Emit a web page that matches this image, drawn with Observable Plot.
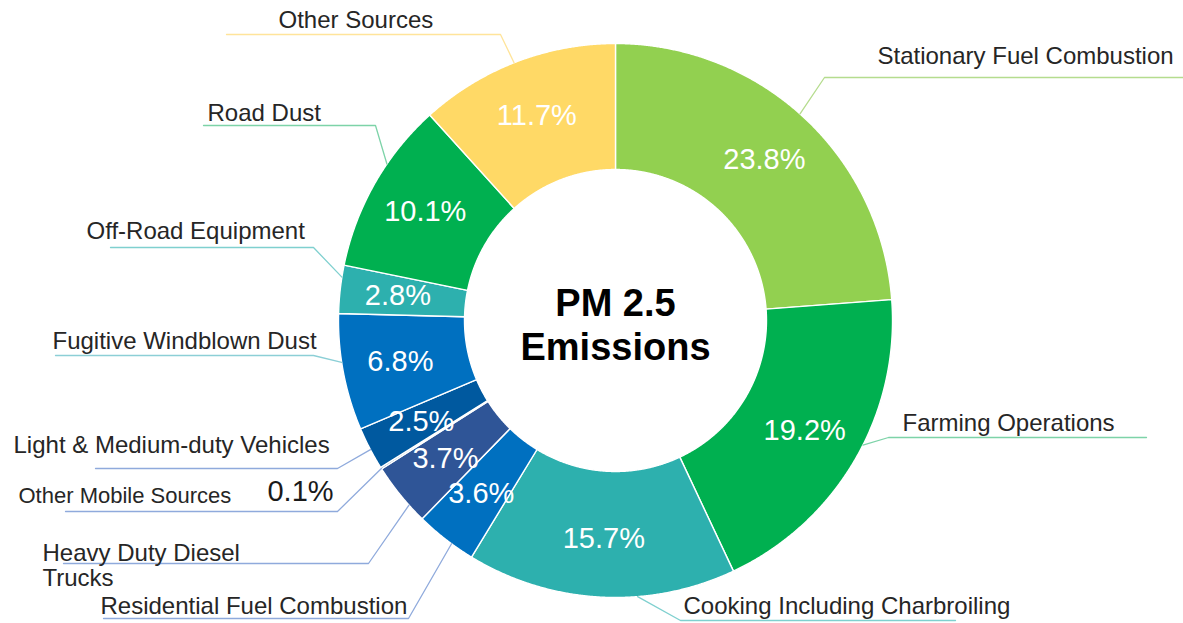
<!DOCTYPE html>
<html><head><meta charset="utf-8">
<script src="https://cdn.jsdelivr.net/npm/d3@7"></script>
<script src="https://cdn.jsdelivr.net/npm/@observablehq/plot@0.6"></script>
<style>
html,body{margin:0;padding:0;background:#fff;}
#chart{width:1183px;height:623px;overflow:hidden;}
</style>
</head><body><div id="chart"></div>
<script>
// ---- data ----
const categories = [
  "Stationary Fuel Combustion",
  "Farming Operations",
  "Cooking Including Charbroiling",
  "Residential Fuel Combustion",
  "Heavy Duty Diesel\nTrucks",
  "Other Mobile Sources",
  "Light & Medium-duty Vehicles",
  "Fugitive Windblown Dust",
  "Off-Road Equipment",
  "Road Dust",
  "Other Sources"
];
const shares = [23.8, 19.2, 15.7, 3.6, 3.7, 0.1, 2.5, 6.8, 2.8, 10.1, 11.7];
const shareLabels = shares.map(v => v.toFixed(1) + "%");
const sliceColors = ["#92D050","#00B050","#2DB0AE","#0070C0","#2F5597","#1F4E79","#00599F","#0070C0","#2DB0AE","#00B050","#FFD966"];
const leaderColors = ["#B5DC8E","#7DD3A8","#7FD0CF","#8FAADC","#8FAADC","#8FAADC","#8FAADC","#8CCFD6","#7FD0CF","#7DD3A8","#FFE49A"];
const titleLines = ["PM 2.5", "Emissions"];

// ---- layout (pixels) ----
const W = 1183, H = 623, cx = 615, cy = 320, R = 277, R0 = 151, RL = 219;
const labelLayout = [
  {side:"right", tx:877, ty:63,  fs:24, uy:77,  u0:824, u1:1183},
  {side:"right", tx:902, ty:430, fs:24, uy:437, u0:888, u1:1146},
  {side:"right", tx:683, ty:613, fs:24, uy:620, u0:680, u1:955},
  {side:"left",  tx:100, ty:613, fs:24, uy:618, u0:103, u1:408},
  {side:"left",  tx:42,  ty:585, fs:24, uy:563, u0:63,  u1:368},
  {side:"left",  tx:18,  ty:502, fs:22, uy:511, u0:65,  u1:337, px:300, py:500},
  {side:"left",  tx:13,  ty:452, fs:24, uy:468, u0:95,  u1:337},
  {side:"left",  tx:52,  ty:348, fs:24, uy:355, u0:55,  u1:313},
  {side:"left",  tx:86,  ty:238, fs:24, uy:247, u0:110, u1:313},
  {side:"left",  tx:207, ty:120, fs:24, uy:125, u0:203, u1:375},
  {side:"left",  tx:278, ty:27,  fs:24, uy:34,  u0:226, u1:500}
];

const total = d3.sum(shares);
const TAU = 2 * Math.PI;
const pt = (r, a) => ({x: cx + r * Math.sin(a), y: cy - r * Math.cos(a)});
let acc = 0;
const slices = shares.map((v, i) => {
  const a0 = acc / total * TAU;
  acc += v;
  const a1 = acc / total * TAU;
  const n = Math.max(2, Math.ceil((a1 - a0) / 0.004));
  const pts = [];
  for (let k = 0; k <= n; k++) pts.push(pt(R, a0 + (a1 - a0) * k / n));
  for (let k = n; k >= 0; k--) pts.push(pt(R0, a0 + (a1 - a0) * k / n));
  const am = (a0 + a1) / 2;
  // leader attaches between the slice middle and the point nearest the elbow
  const L = labelLayout[i];
  const ex = L.side === "right" ? L.u0 : L.u1;
  let an = Math.atan2(ex - cx, -(L.uy - cy));
  if (an < 0) an += TAU;
  an = Math.min(a1, Math.max(a0, an));
  const aLead = (am + an) / 2;
  return {i, name: categories[i], value: v, label: shareLabels[i], color: sliceColors[i], pts, am,
          mid: pt(RL, am), edge: pt(R, aLead)};
});

const marks = [];
slices.forEach(s => {
  marks.push(Plot.line(s.pts, {x:"x", y:"y", fill: s.color, stroke:"#fff", strokeWidth:1.4, curve:"linear-closed"}));
});
// inside percentage labels
const inside = slices.filter(s => labelLayout[s.i].px === undefined);
marks.push(Plot.text(inside, {x: d => d.mid.x, y: d => d.mid.y, text:"label", fill:"#fff", fontSize:29, lineAnchor:"middle", textAnchor:"middle"}));
// leader lines
slices.forEach(s => {
  const L = labelLayout[s.i];
  const elbowX = L.side === "right" ? L.u0 : L.u1;
  const endX = L.side === "right" ? L.u1 : L.u0;
  const path = [s.edge, {x: elbowX, y: L.uy}, {x: endX, y: L.uy}];
  marks.push(Plot.line(path, {x:"x", y:"y", stroke: leaderColors[s.i], strokeWidth:1.3}));
});
// category labels
slices.forEach(s => {
  const L = labelLayout[s.i];
  marks.push(Plot.text([s], {x: () => L.tx, y: () => L.ty, text:"name", textAnchor:"start", lineAnchor:"bottom",
    fontSize: L.fs, fill:"#262626", lineHeight: 25 / L.fs}));
  if (L.px !== undefined) {
    marks.push(Plot.text([s], {x: () => L.px, y: () => L.py, text:"label", textAnchor:"middle", lineAnchor:"bottom",
      fontSize: 29, fill:"#1a1a1a"}));
  }
});
// center title
marks.push(Plot.text([titleLines.join("\n")], {x: () => cx, y: () => cy + 3, text: d => d, fontSize:38, fontWeight:"bold",
  fill:"#000", lineAnchor:"middle", textAnchor:"middle", lineHeight: 44 / 38}));

const chart = Plot.plot({
  width: W, height: H, margin: 0,
  x: {domain: [0, W], range: [0, W], axis: null},
  y: {domain: [0, H], range: [0, H], axis: null},
  style: {fontFamily: "'Liberation Sans', Arial, sans-serif", background: "#fff", overflow: "visible"},
  marks
});
document.getElementById("chart").appendChild(chart);
</script>
</body></html>
